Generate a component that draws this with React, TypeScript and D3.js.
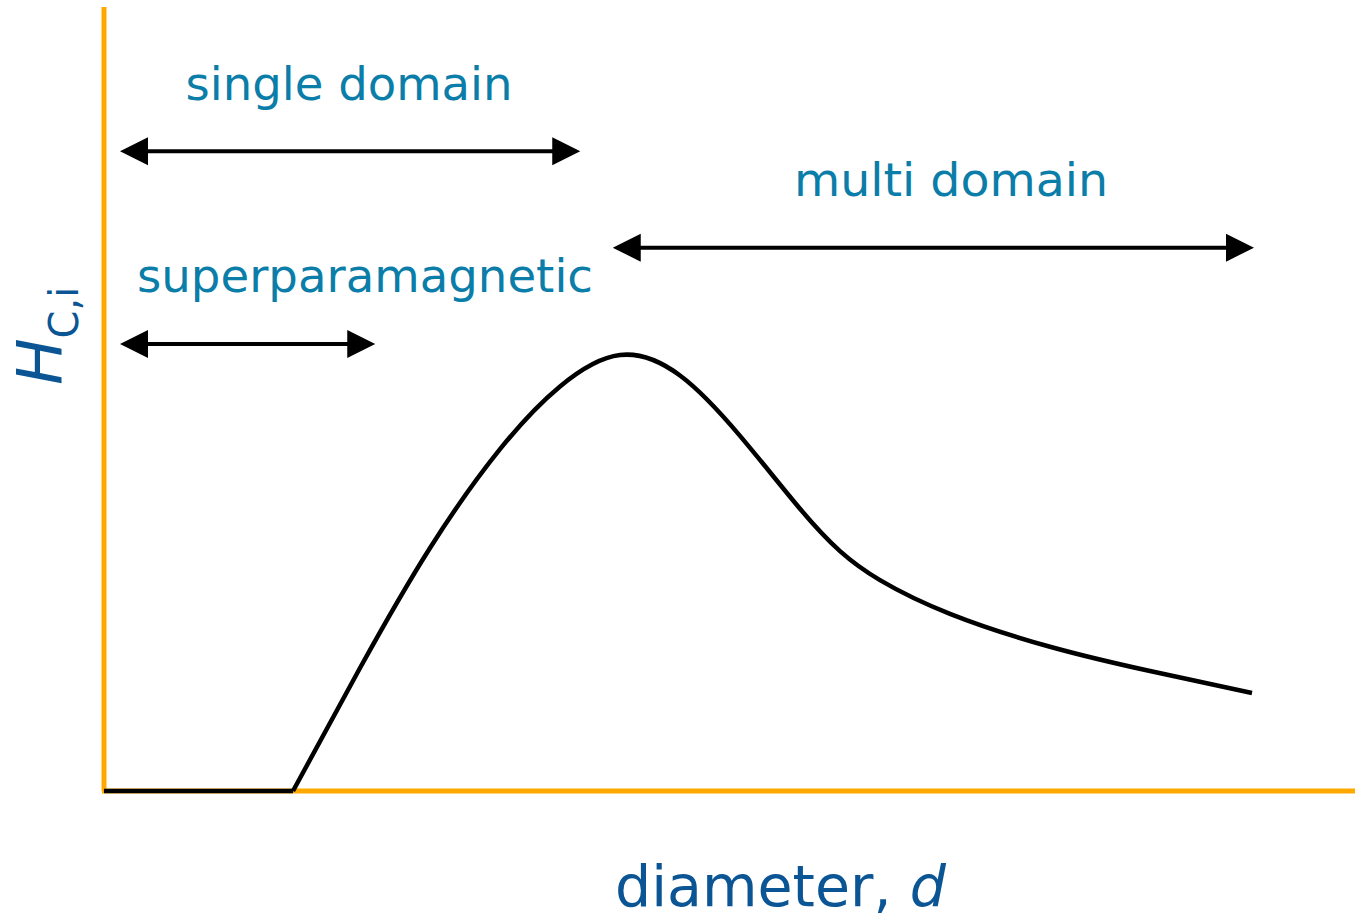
import React from "react";
import * as d3 from "d3";

// Schematic data (arbitrary units): coercivity H_c,i vs particle diameter d
const flatDiameter = [0, 15.12];
const curveDiameter = [15.12, 20.48, 26.08, 31.68, 36.48, 41.28, 46.08, 50.88, 55.68, 58.88, 62.08, 67.68, 75.68, 83.68, 91.84];
const curveHc = [0, 15.69, 31.0, 43.6, 51.6, 55.61, 53.0, 45.3, 36.0, 30.6, 26.9, 22.6, 18.4, 15.3, 12.5];

const regionLabels = ["single domain", "superparamagnetic", "multi domain"];
const regionStart = [1.28, 1.28, 40.7];
const regionEnd = [38.1, 21.7, 92.0];
const regionLevel = [81.6, 57.0, 69.3];

const W = 1355;
const H = 920;
const x = d3.scaleLinear().domain([0, 100]).range([104, 1354]);
const y = d3.scaleLinear().domain([0, 100]).range([791, 7]);

const ORANGE = "#FFA800";
const LABEL = "#0A7DA8";
const AXIS_LABEL = "#0B5594";
const FONT = "'DejaVu Sans', Verdana, sans-serif";

function Arrow({ x1, x2, yy }: { x1: number; x2: number; yy: number }) {
  const hl = 28;
  const hw = 14;
  return (
    <g>
      <line x1={x1 + hl - 1} x2={x2 - hl + 1} y1={yy} y2={yy} stroke="#000" strokeWidth={4} />
      <path d={`M${x1},${yy} L${x1 + hl},${yy - hw} L${x1 + hl},${yy + hw} Z`} fill="#000" />
      <path d={`M${x2},${yy} L${x2 - hl},${yy - hw} L${x2 - hl},${yy + hw} Z`} fill="#000" />
    </g>
  );
}

export default function App() {
  const pts: [number, number][] = curveDiameter.map((d, i) => [d, curveHc[i]]);
  const line = d3
    .line<[number, number]>()
    .x((p) => x(p[0]))
    .y((p) => y(p[1]))
    .curve(d3.curveNatural);
  const flat = d3
    .line<number>()
    .x((d) => x(d))
    .y(() => y(0));

  const labelPos = [
    { cx: 349, by: 100, len: 327 },
    { cx: 365, by: 292, len: 456 },
    { cx: 951, by: 196, len: 314 },
  ];

  return (
    <svg
      width={W}
      height={H}
      style={{ position: "absolute", left: 0, top: 0, background: "#fff" }}
      fontFamily={FONT}
    >
      {/* axes */}
      <line x1={x(0)} x2={x(0)} y1={7} y2={y(0)} stroke={ORANGE} strokeWidth={5} />
      <line x1={x(0) - 2} x2={W} y1={y(0)} y2={y(0)} stroke={ORANGE} strokeWidth={5} />

      {/* curve */}
      <path d={flat(flatDiameter) || ""} stroke="#000" strokeWidth={4.5} fill="none" />
      <path d={line(pts) || ""} stroke="#000" strokeWidth={4.5} fill="none" strokeLinejoin="round" />

      {/* region arrows and labels */}
      {regionLabels.map((lab, i) => (
        <g key={lab}>
          <Arrow x1={x(regionStart[i])} x2={x(regionEnd[i])} yy={y(regionLevel[i])} />
          <text
            x={labelPos[i].cx}
            y={labelPos[i].by}
            textAnchor="middle"
            fontSize={47}
            fill={LABEL}
            textLength={labelPos[i].len}
            lengthAdjust="spacingAndGlyphs"
          >
            {lab}
          </text>
        </g>
      ))}

      {/* x axis label */}
      <text x={615} y={906} fontSize={57} fill={AXIS_LABEL}>
        diameter,{" "}
        <tspan fontStyle="italic">d</tspan>
      </text>

      {/* y axis label */}
      <text transform="translate(62,385) rotate(-90)" fill={AXIS_LABEL}>
        <tspan fontSize={62} fontStyle="italic">H</tspan>
        <tspan fontSize={40} dy={16}>C,i</tspan>
      </text>
    </svg>
  );
}
